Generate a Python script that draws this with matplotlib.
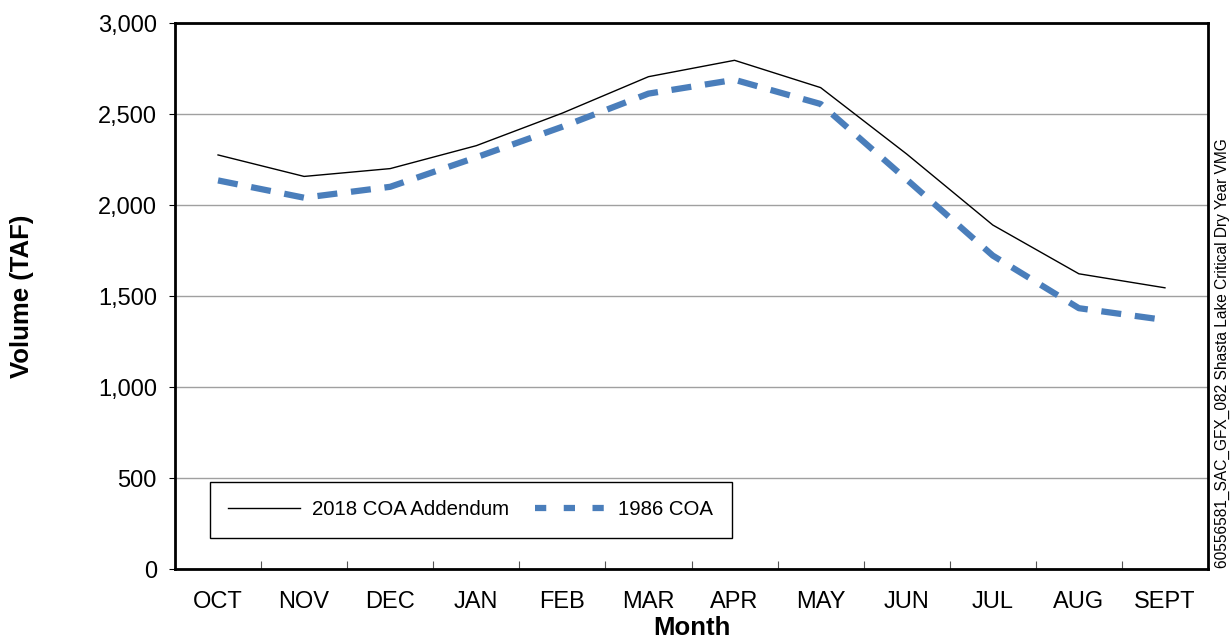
import matplotlib
matplotlib.use("Agg")
import matplotlib.pyplot as plt
from matplotlib.ticker import FuncFormatter, FixedLocator

plt.rcParams['font.family'] = ['Liberation Sans', 'DejaVu Sans']

months = ["OCT", "NOV", "DEC", "JAN", "FEB", "MAR", "APR", "MAY", "JUN", "JUL", "AUG", "SEPT"]
addendum_2018 = [2275, 2157, 2200, 2326, 2505, 2705, 2795, 2645, 2280, 1890, 1622, 1545]
coa_1986 = [2135, 2040, 2100, 2262, 2430, 2612, 2688, 2555, 2140, 1722, 1433, 1368]
y_ticks = [0, 500, 1000, 1500, 2000, 2500, 3000]

fig = plt.figure(figsize=(12.32, 6.41), dpi=100)
ax = fig.add_axes([175 / 1232, 1 - 569 / 641, 1033 / 1232, 546 / 641])

x = list(range(len(months)))
ax.plot(x, addendum_2018, color='black', linewidth=1.0, label='2018 COA Addendum', zorder=3)
ax.plot(x, coa_1986, color='#4a7ebb', linewidth=4.5, linestyle=(0, (3.2, 2.2)),
        dash_capstyle='butt', label='1986 COA', zorder=2)

ax.set_xlim(-0.5, len(months) - 0.5)
ax.set_ylim(0, 3000)
ax.set_yticks(y_ticks)
ax.yaxis.set_major_formatter(FuncFormatter(lambda v, p: f"{int(v):,}"))
ax.yaxis.grid(True, color='#a0a0a0', linewidth=1.0)
ax.set_axisbelow(True)

ax.set_xticks(x)
ax.set_xticklabels(months)
ax.xaxis.set_minor_locator(FixedLocator([i + 0.5 for i in range(len(months) - 1)]))
ax.tick_params(axis='x', which='major', length=0, pad=16, labelsize=17)
ax.tick_params(axis='x', which='minor', direction='in', length=6, width=0.8, color='#555555')
ax.tick_params(axis='y', which='major', direction='out', length=4, width=0.8, pad=9, labelsize=17)

for s in ax.spines.values():
    s.set_linewidth(2.0)
    s.set_color('black')

ax.set_xlabel("Month", fontsize=18.5, fontweight='bold', labelpad=2)
ax.set_ylabel("Volume (TAF)", fontsize=18.5, fontweight='bold', labelpad=46)

leg = ax.legend(loc='upper left', bbox_to_anchor=(35 / 1033, 87 / 546), ncol=2,
                frameon=True, fancybox=False, fontsize=14.7, handlelength=3.5,
                handletextpad=0.6, columnspacing=1.25, borderpad=0.9,
                edgecolor='black', borderaxespad=0)
leg.get_frame().set_linewidth(1.0)
leg.get_frame().set_alpha(1)
# shorter dashes in the legend sample, like the original
leg.get_lines()[1].set_linestyle((0, (1.8, 2.8)))

fig.text(1222 / 1232, 1 - 353 / 641, "60556581_SAC_GFX_082 Shasta Lake Critical Dry Year VMG",
         rotation=90, ha='center', va='center', fontsize=11.2)

fig.savefig("out.png", dpi=100)
